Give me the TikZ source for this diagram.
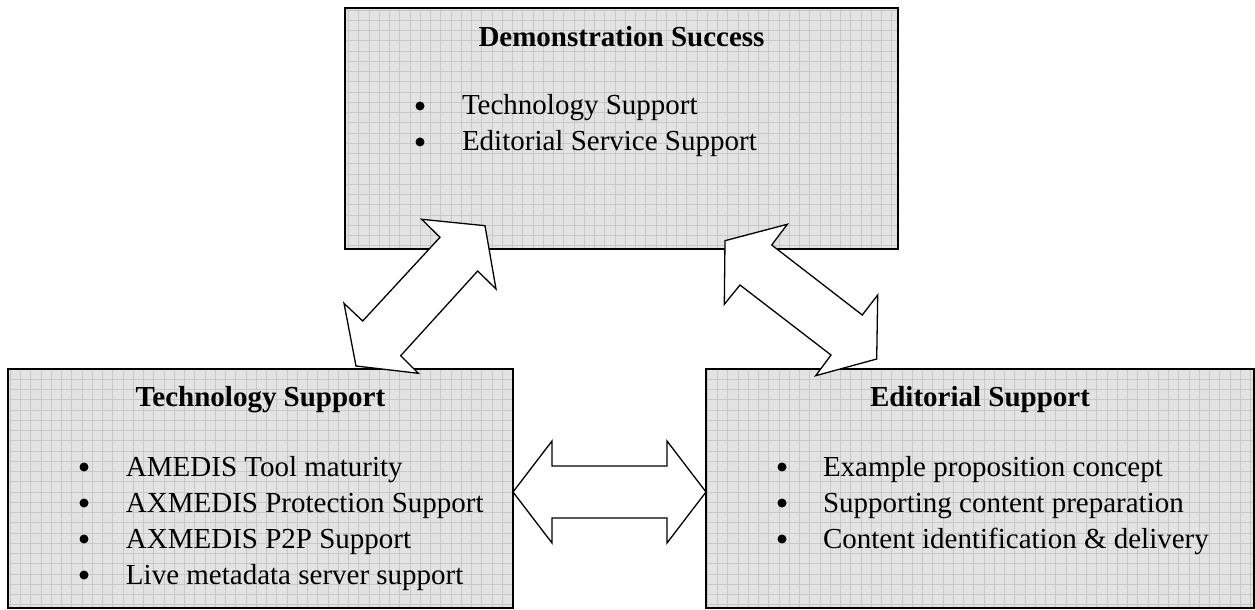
\documentclass[tikz,border=0pt]{standalone}
\usepackage{fontspec}
\setmainfont{Liberation Serif}
\definecolor{boxfill}{HTML}{E3E3E3}
\definecolor{gridline}{HTML}{C8C8C8}
\tikzset{
  panel/.style={fill=boxfill, draw=none, inner sep=0pt, outer sep=0pt, anchor=north west},
  panelborder/.style={draw=black, line width=1pt},
  gridlines/.style={draw=gridline, line width=0.5pt},
  txt/.style={inner sep=0pt, outer sep=0pt, font=\fontsize{14.5pt}{18pt}\selectfont},
  ttl/.style={txt, anchor=base, font=\fontsize{14.5pt}{18pt}\selectfont\bfseries},
  item/.style={txt, anchor=base west},
  blockarrow/.style={draw=black, fill=white, line width=0.65pt, line join=miter}
}
\begin{document}
\begin{tikzpicture}[x=0.5pt,y=-0.5pt]
\useasboundingbox (0,0) rectangle (1255,610);

% panels
\node[panel, minimum width=276.5pt, minimum height=120.5pt] (top) at (345,8) {};
\node[panel, minimum width=252.5pt, minimum height=119.5pt] (left) at (8,369) {};
\node[panel, minimum width=274pt, minimum height=119.5pt] (right) at (706,369) {};

\foreach \b in {top,left,right}{
  \begin{scope}
    \clip (\b.south west) rectangle (\b.north east);
    \draw[gridlines] (\b.south west) grid[step=5.125pt] (\b.north east);
  \end{scope}
  \draw[panelborder] (\b.south west) rectangle (\b.north east);
}

% top panel text
\node[ttl] (toptitle) at (621.5,47) {Demonstration Success};
\fill (420,106) circle[radius=2.25pt];
\node[item] (top1) at (462,115) {Technology Support};
\fill (420,142) circle[radius=2.25pt];
\node[item] (top2) at (462,151) {Editorial Service Support};

% left panel text
\node[ttl] (lefttitle) at (260.5,407) {Technology Support};
\foreach \y/\t [count=\i] in {476/AMEDIS Tool maturity, 512/AXMEDIS Protection Support, 548/AXMEDIS P2P Support, 584/Live metadata server support}{
  \fill (84,\y-9) circle[radius=2.25pt];
  \node[item] (left\i) at (126,\y) {\t};
}

% right panel text
\node[ttl] (righttitle) at (980,407) {Editorial Support};
\foreach \y/\t [count=\i] in {476/Example proposition concept, 512/Supporting content preparation, 548/Content identification \& delivery}{
  \fill (782,\y-9) circle[radius=2.25pt];
  \node[item] (right\i) at (823,\y) {\t};
}

% block arrows
\draw[blockarrow] (440,237.3) -- (421.7,219.3) -- (485,225.7) -- (496,289) -- (477.7,271)
  -- (400.7,355.7) -- (418.3,373.3) -- (356,366) -- (344,303.3) -- (362.7,321) -- cycle;
\draw[blockarrow] (787.3,224.3) -- (771.7,245) -- (862.3,315) -- (877.7,295) -- (876.7,359)
  -- (815.7,375.7) -- (831,355) -- (740,285) -- (724.3,304.3) -- (725,240.7) -- cycle;
\draw[blockarrow] (left.east |- 0,492) -- (552,441) -- (552,466) -- (667,466) -- (667,441)
  -- (right.west |- 0,492) -- (667,543) -- (667,518) -- (552,518) -- (552,543) -- cycle;
\end{tikzpicture}
\end{document}
